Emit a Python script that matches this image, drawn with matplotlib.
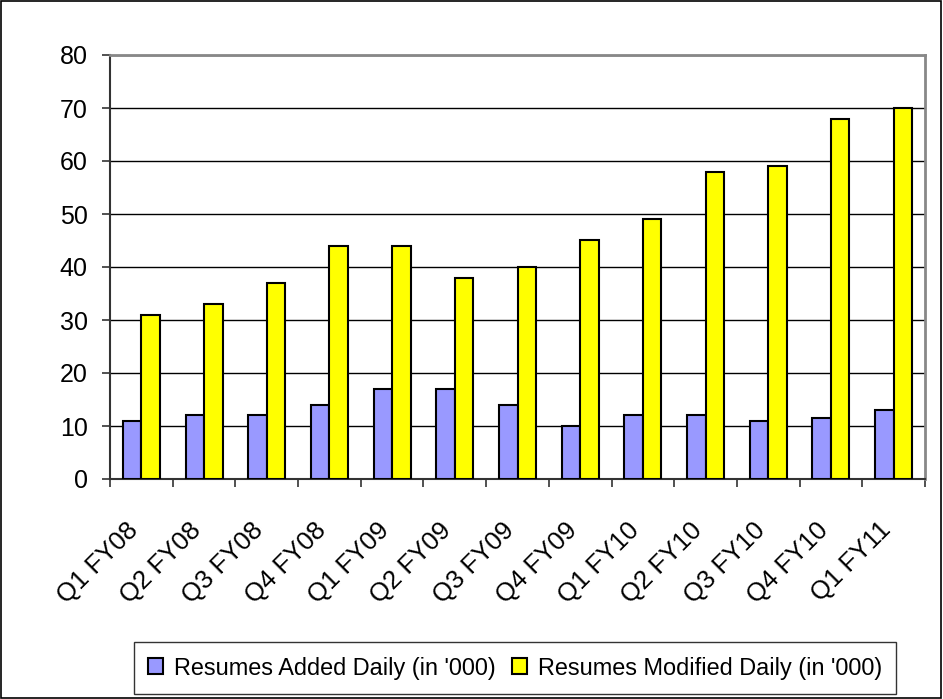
import numpy as np
import matplotlib.pyplot as plt
import matplotlib.transforms as mtransforms
from matplotlib.patches import Rectangle

plt.rcParams['font.family'] = ['Liberation Sans', 'DejaVu Sans']

# данные
quarters = ['Q1 FY08', 'Q2 FY08', 'Q3 FY08', 'Q4 FY08', 'Q1 FY09', 'Q2 FY09', 'Q3 FY09',
            'Q4 FY09', 'Q1 FY10', 'Q2 FY10', 'Q3 FY10', 'Q4 FY10', 'Q1 FY11']
added = [11, 12, 12, 14, 17, 17, 14, 10, 12, 12, 11, 11.5, 13]
modified = [31, 33, 37, 44, 44, 38, 40, 45, 49, 58, 59, 68, 70]

fig = plt.figure(figsize=(9.43, 6.99), dpi=100)
ax = fig.add_axes([110 / 943, 1 - 479 / 699, 815 / 943, 424 / 699])

x = np.arange(len(quarters))
w = 0.295
ax.bar(x - w / 2, added, w, color='#9999FF', edgecolor='black', linewidth=1.5,
       label="Resumes Added Daily (in '000)", zorder=3)
ax.bar(x + w / 2, modified, w, color='#FFFF00', edgecolor='black', linewidth=1.5,
       label="Resumes Modified Daily (in '000)", zorder=3)

ax.set_xlim(-0.5, len(quarters) - 0.5)
ax.set_ylim(0, 80)
ax.set_yticks(range(0, 81, 10))
ax.yaxis.grid(True, color='black', linewidth=1)
ax.set_axisbelow(True)

# деления на границах категорий, подписи по центру
ax.set_xticks(np.arange(-0.5, len(quarters), 1))
ax.set_xticklabels([])
ax.set_xticks(x, minor=True)
ax.set_xticklabels(quarters, minor=True, rotation=45, ha='right', va='center',
                   rotation_mode='anchor', fontsize=18.5)
ax.tick_params(axis='x', which='minor', length=0, pad=34)
ax.tick_params(axis='x', which='major', length=6, width=1.2, color='#333333')
ax.tick_params(axis='y', length=6, width=1.2, color='#333333', labelsize=18, pad=10)

# сдвиг подписей чуть влево
shift = mtransforms.ScaledTranslation(-7 / 100, 0, fig.dpi_scale_trans)
for lbl in ax.get_xticklabels(minor=True):
    lbl.set_transform(lbl.get_transform() + shift)

for side in ['left', 'bottom']:
    ax.spines[side].set_color('#333333')
    ax.spines[side].set_linewidth(1.5)
for side in ['top', 'right']:
    ax.spines[side].set_color('#888888')
    ax.spines[side].set_linewidth(2)

leg = fig.legend(loc='center', bbox_to_anchor=(515 / 943, 1 - 668 / 699), ncol=2,
                 fontsize=16.9, frameon=True, fancybox=False, edgecolor='black',
                 handlelength=0.65, handleheight=0.65, handletextpad=0.45, columnspacing=0.7,
                 borderpad=0.6, borderaxespad=0)
leg.get_frame().set_linewidth(1)

fig.patches.append(Rectangle((0.001, 0.001), 0.997, 0.997, transform=fig.transFigure,
                             fill=False, edgecolor='black', linewidth=1.2))

fig.savefig('out.png', dpi=100)
